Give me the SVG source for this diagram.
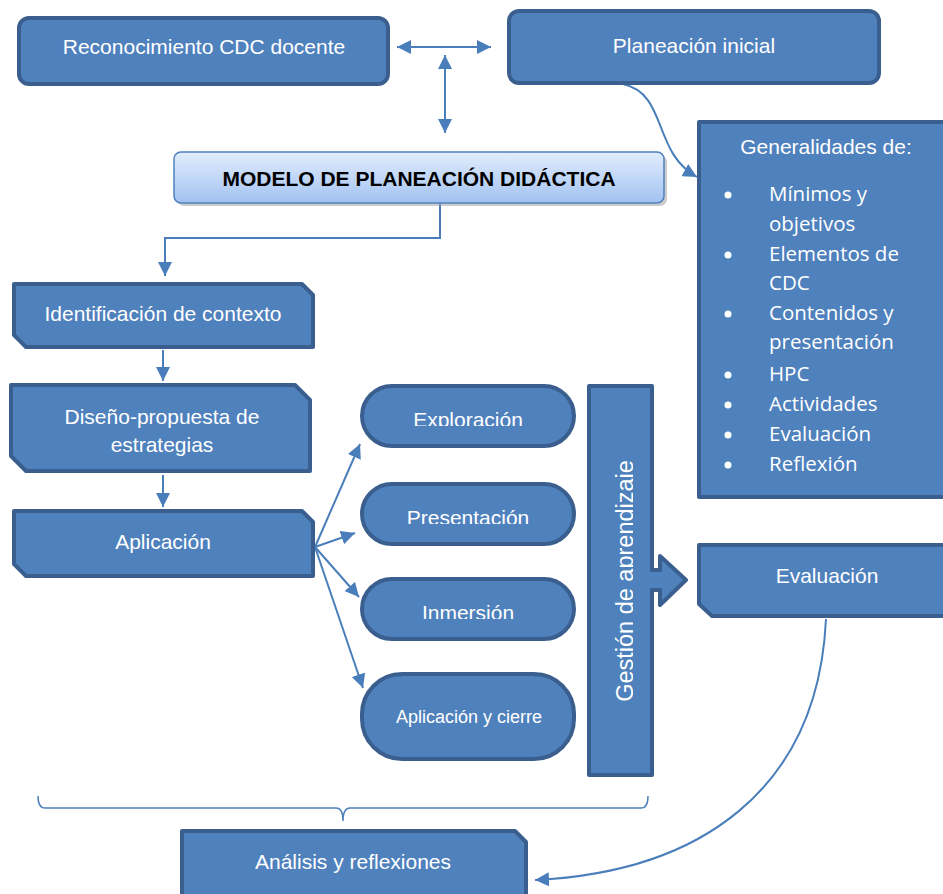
<svg xmlns="http://www.w3.org/2000/svg" width="943" height="894" viewBox="0 0 943 894">
<defs>
<style>
.box{fill:#4f81bd;stroke:#3a5f8e;stroke-width:4;stroke-linejoin:round}
.t{font-family:"Liberation Sans",Arial,sans-serif;font-size:21px;fill:#ffffff;text-anchor:middle}
.li{font-family:"Open Sans","Noto Sans",sans-serif;font-size:20.5px;fill:#ffffff}
.c{fill:none;stroke:#4a7ebb;stroke-width:2}
</style>
<marker id="ah" viewBox="0 0 10 10" refX="10" refY="5" markerWidth="7" markerHeight="7" orient="auto-start-reverse" markerUnits="strokeWidth">
<path d="M0,0 L10,5 L0,10 z" fill="#4a7ebb"/>
</marker>
<linearGradient id="mg" x1="0" y1="0" x2="0" y2="1">
<stop offset="0" stop-color="#e2edfc"/>
<stop offset="1" stop-color="#a2c2f2"/>
</linearGradient>
<clipPath id="cExp"><rect x="360" y="380" width="220" height="46"/></clipPath>
<clipPath id="cPre"><rect x="360" y="480" width="220" height="44"/></clipPath>
<clipPath id="cInm"><rect x="360" y="575" width="220" height="44"/></clipPath>
<clipPath id="cGes"><rect x="587" y="384" width="46" height="392"/></clipPath>
</defs>

<g id="connectors">
<line class="c" x1="397" y1="47" x2="491" y2="47" marker-start="url(#ah)" marker-end="url(#ah)"/>
<line class="c" x1="445" y1="55" x2="445" y2="133" marker-start="url(#ah)" marker-end="url(#ah)"/>
<path class="c" d="M623,84 C668,94 652,152 697,177" marker-end="url(#ah)"/>
<path class="c" d="M440,204 L440,238 L165,238 L165,276" marker-end="url(#ah)"/>
<line class="c" x1="163" y1="350" x2="163" y2="381" marker-end="url(#ah)"/>
<line class="c" x1="163" y1="475" x2="163" y2="507" marker-end="url(#ah)"/>
<line class="c" x1="315" y1="547" x2="360" y2="444" marker-end="url(#ah)"/>
<line class="c" x1="315" y1="547" x2="355" y2="533" marker-end="url(#ah)"/>
<line class="c" x1="315" y1="547" x2="359" y2="597" marker-end="url(#ah)"/>
<line class="c" x1="315" y1="547" x2="363" y2="688" marker-end="url(#ah)"/>
<path class="c" d="M826,619 C818,790 700,872 535,880" marker-end="url(#ah)"/>
<path d="M38,796 Q38,808 45,808 L336,808 Q343,808 343,821 Q343,808 350,808 L641,808 Q648,808 648,796" fill="none" stroke="#4f81bd" stroke-width="1.5"/>
</g>

<g id="reconocimiento">
<rect class="box" x="19" y="18" width="369" height="66" rx="10"/>
<text class="t" x="204" y="54">Reconocimiento CDC docente</text>
</g>

<g id="planeacion">
<rect class="box" x="509" y="11" width="370" height="72" rx="10"/>
<text class="t" x="694" y="53">Planeación inicial</text>
</g>

<g id="modelo">
<rect x="177" y="155" width="490" height="51" rx="7" fill="#9a9a9a" opacity="0.5"/>
<rect x="174" y="152" width="490" height="51" rx="7" fill="url(#mg)" stroke="#4f81bd" stroke-width="1.5"/>
<text x="419" y="186" font-family="'Liberation Sans',Arial,sans-serif" font-size="21" font-weight="bold" fill="#000000" text-anchor="middle">MODELO DE PLANEACIÓN DIDÁCTICA</text>
</g>

<g id="generalidades">
<rect class="box" x="699" y="122" width="260" height="375" stroke-linejoin="miter"/>
<text class="t" x="826" y="154">Generalidades de:</text>
<g fill="#ffffff">
<circle cx="728" cy="195" r="3.5"/>
<circle cx="728" cy="255" r="3.5"/>
<circle cx="728" cy="314" r="3.5"/>
<circle cx="728" cy="375" r="3.5"/>
<circle cx="728" cy="405" r="3.5"/>
<circle cx="728" cy="435" r="3.5"/>
<circle cx="728" cy="465" r="3.5"/>
</g>
<text class="li" x="769" y="201">Mínimos y</text>
<text class="li" x="769" y="231">objetivos</text>
<text class="li" x="769" y="261">Elementos de</text>
<text class="li" x="769" y="290">CDC</text>
<text class="li" x="769" y="320">Contenidos y</text>
<text class="li" x="769" y="349">presentación</text>
<text class="li" x="769" y="381">HPC</text>
<text class="li" x="769" y="411">Actividades</text>
<text class="li" x="769" y="441">Evaluación</text>
<text class="li" x="769" y="471">Reflexión</text>
</g>

<g id="identificacion">
<path class="box" d="M14,284 L302,284 L313,295 L313,347 L26,347 L14,335 Z"/>
<text class="t" x="163" y="321">Identificación de contexto</text>
</g>

<g id="diseno">
<path class="box" d="M11,385 L295,385 L310,400 L310,471 L26,471 L11,456 Z"/>
<text class="t" x="162" y="424">Diseño-propuesta de</text>
<text class="t" x="162" y="452">estrategias</text>
</g>

<g id="aplicacion">
<path class="box" d="M14,511 L302,511 L313,522 L313,576 L26,576 L14,564 Z"/>
<text class="t" x="163" y="549">Aplicación</text>
</g>

<g id="exploracion">
<rect class="box" x="362" y="386" width="212" height="60" rx="30"/>
<text class="t" x="468" y="427" clip-path="url(#cExp)">Exploración</text>
</g>

<g id="presentacion">
<rect class="box" x="362" y="484" width="212" height="60" rx="30"/>
<text class="t" x="468" y="525" clip-path="url(#cPre)">Presentación</text>
</g>

<g id="inmersion">
<rect class="box" x="362" y="579" width="212" height="60" rx="30"/>
<text class="t" x="468" y="620" clip-path="url(#cInm)">Inmersión</text>
</g>

<g id="aplicacion-cierre">
<rect class="box" x="362" y="674" width="212" height="85" rx="40"/>
<text class="t" x="469" y="723" style="font-size:18px">Aplicación y cierre</text>
</g>

<g id="gestion">
<path class="box" d="M589,386 L652,386 L652,570 L660,570 L660,556 L686,580 L660,605 L660,590 L652,590 L652,775 L589,775 Z" stroke-linejoin="miter"/>
<g clip-path="url(#cGes)">
<text class="t" transform="translate(633,581) rotate(-90)" x="0" y="0" style="font-size:23.5px">Gestión de aprendizaje</text>
</g>
</g>

<g id="evaluacion">
<path class="box" d="M699,545 L959,545 L959,616 L712,616 L699,604 Z"/>
<text class="t" x="827" y="583">Evaluación</text>
</g>

<g id="analisis">
<path class="box" d="M182,831 L515,831 L526,842 L526,900 L182,900 Z"/>
<text class="t" x="353" y="869">Análisis y reflexiones</text>
</g>
</svg>
